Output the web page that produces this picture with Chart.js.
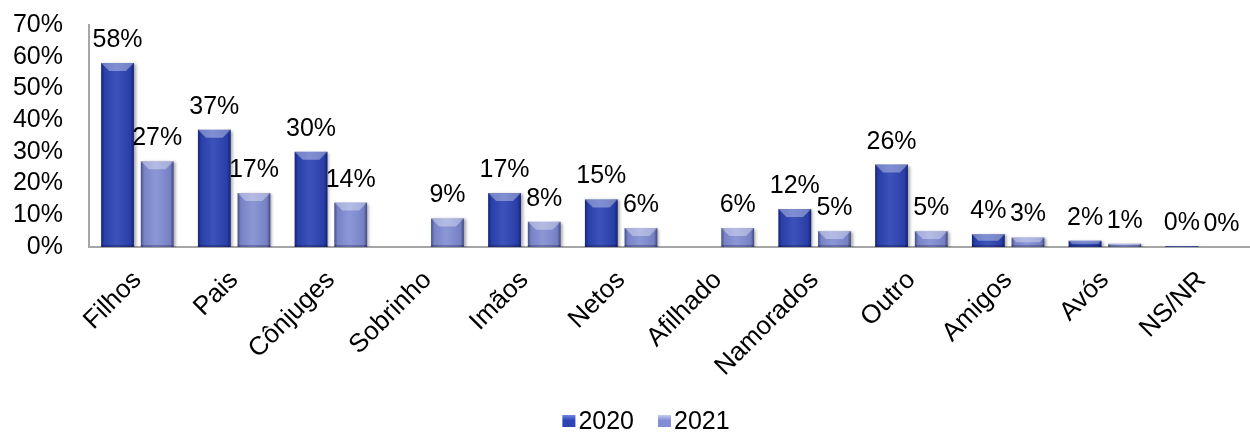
<!DOCTYPE html>
<html>
<head>
<meta charset="utf-8">
<script src="https://cdn.jsdelivr.net/npm/chart.js@4/dist/chart.umd.min.js"></script>
<style>
  body { margin: 0; background: #fff; }
  canvas { display: block; }
</style>
</head>
<body>
<canvas id="chart" width="1250" height="432"></canvas>
<script>
const categories = ["Filhos", "Pais", "Cônjuges", "Sobrinho", "Imãos", "Netos", "Afilhado", "Namorados", "Outro", "Amigos", "Avós", "NS/NR"];
const values2020 = [58, 37, 30, null, 17, 15, null, 12, 26, 4, 2, 0.3];
const values2021 = [27, 17, 14, 9, 8, 6, 6, 5, 5, 3, 1, 0];
const yTicks = [0, 10, 20, 30, 40, 50, 60, 70];

const fontFamily = "'Liberation Sans', Arial, sans-serif";

// shading, top bevel and a small shadow to get the 3D look of the bars
const bevelPlugin = {
  id: "bevel",
  beforeDatasetsDraw(chart) {
    const ctx = chart.ctx;
    ctx.save();
    ctx.shadowColor = "rgba(0,0,0,0.35)";
    ctx.shadowOffsetX = 2;
    ctx.shadowOffsetY = 1;
    ctx.shadowBlur = 3;
  },
  afterDatasetsDraw(chart) {
    const ctx = chart.ctx;
    ctx.restore();
    chart.data.datasets.forEach((ds, i) => {
      const meta = chart.getDatasetMeta(i);
      meta.data.forEach((bar, j) => {
        if (ds.data[j] == null) return;
        const p = bar.getProps(["x", "y", "base", "width"], true);
        const l = p.x - p.width / 2;
        const r = p.x + p.width / 2;
        const h = p.base - p.y;
        if (h <= 0) return;
        ctx.save();
        const g = ctx.createLinearGradient(l, 0, r, 0);
        g.addColorStop(0, "rgba(0,0,40,0.45)");
        g.addColorStop(0.1, "rgba(0,0,40,0.08)");
        g.addColorStop(0.45, "rgba(255,255,255,0.08)");
        g.addColorStop(0.9, "rgba(0,0,40,0.1)");
        g.addColorStop(1, "rgba(0,0,40,0.5)");
        ctx.fillStyle = g;
        ctx.fillRect(l, p.y, p.width, h);
        const b = Math.min(8, h / 2);
        ctx.beginPath();
        ctx.moveTo(l, p.y);
        ctx.lineTo(r, p.y);
        ctx.lineTo(r - b, p.y + b);
        ctx.lineTo(l + b, p.y + b);
        ctx.closePath();
        ctx.fillStyle = "rgba(255,255,255,0.35)";
        ctx.fill();
        ctx.fillStyle = "rgba(0,0,30,0.25)";
        ctx.fillRect(l, p.base - Math.min(2, h), p.width, Math.min(2, h));
        ctx.restore();
      });
    });
  }
};

const labelPlugin = {
  id: "valueLabels",
  afterDraw(chart) {
    const ctx = chart.ctx;
    ctx.save();
    ctx.font = "25px " + fontFamily;
    ctx.fillStyle = "#000";
    ctx.textAlign = "center";
    ctx.textBaseline = "alphabetic";
    chart.data.datasets.forEach((ds, i) => {
      const meta = chart.getDatasetMeta(i);
      meta.data.forEach((bar, j) => {
        const v = ds.data[j];
        if (v == null) return;
        ctx.fillText(Math.round(v) + "%", bar.x, bar.y - 16);
      });
    });
    ctx.restore();
  }
};

// legend with a tight box-to-text gap, centred a little right of the canvas middle
const legendPlugin = {
  id: "bottomLegend",
  afterDraw(chart) {
    const ctx = chart.ctx;
    const ds = chart.data.datasets;
    ctx.save();
    ctx.font = "25px " + fontFamily;
    ctx.textBaseline = "middle";
    ctx.textAlign = "left";
    const boxW = 13, boxH = 12, gap = 3, spacing = 24;
    const widths = ds.map(d => boxW + gap + ctx.measureText(d.label).width);
    const total = widths.reduce((a, b) => a + b, 0) + spacing * (ds.length - 1);
    let x = chart.width / 2 + 21 - total / 2;
    const y = chart.height - 11;
    ds.forEach((d, i) => {
      const g = ctx.createLinearGradient(0, y - boxH / 2, 0, y + boxH / 2);
      g.addColorStop(0, d.legendLight);
      g.addColorStop(0.45, d.backgroundColor);
      g.addColorStop(1, d.backgroundColor);
      ctx.fillStyle = g;
      ctx.fillRect(x, y - boxH / 2, boxW, boxH);
      ctx.fillStyle = "#000";
      ctx.fillText(d.label, x + boxW + gap, y + 1);
      x += widths[i] + spacing;
    });
    ctx.restore();
  }
};

new Chart(document.getElementById("chart"), {
  type: "bar",
  data: {
    labels: categories,
    datasets: [
      {
        label: "2020",
        data: values2020,
        backgroundColor: "#2c44b4",
        legendLight: "#6f86e6",
        categoryPercentage: 0.82,
        barPercentage: 0.825
      },
      {
        label: "2021",
        data: values2021,
        backgroundColor: "#828ed4",
        legendLight: "#c4ccf4",
        categoryPercentage: 0.82,
        barPercentage: 0.825
      }
    ]
  },
  options: {
    responsive: false,
    animation: false,
    layout: { padding: { top: 25, right: 0, left: 0, bottom: 0 } },
    plugins: {
      tooltip: { enabled: false },
      legend: { display: false }
    },
    scales: {
      x: {
        grid: { display: false },
        border: { color: "#a6a6a6", width: 2 },
        ticks: {
          color: "#000",
          font: { size: 26, family: fontFamily },
          maxRotation: 45,
          minRotation: 45,
          autoSkip: false,
          padding: 10
        },
        afterFit(scale) {
          scale.height = 185;
          scale.paddingTop = 0;
          scale.paddingBottom = 0;
        }
      },
      y: {
        min: 0,
        max: 70,
        grid: { display: false },
        border: { color: "#a6a6a6", width: 2 },
        afterBuildTicks(scale) {
          scale.ticks = yTicks.map(v => ({ value: v }));
        },
        ticks: {
          color: "#000",
          font: { size: 25, family: fontFamily },
          padding: 18,
          autoSkip: false,
          callback: v => v + "%"
        },
        afterFit(scale) {
          scale.width = 89;
          scale.paddingTop = 0;
          scale.paddingBottom = 0;
        }
      }
    }
  },
  plugins: [bevelPlugin, labelPlugin, legendPlugin]
});
</script>
</body>
</html>
